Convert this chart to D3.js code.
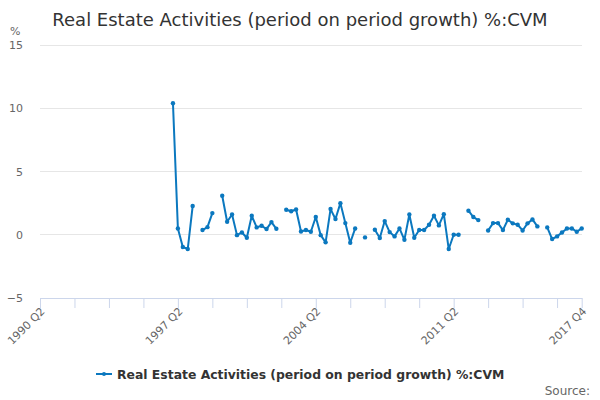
<!DOCTYPE html>
<html><head><meta charset="utf-8">
<script src="https://cdn.jsdelivr.net/npm/d3@7"></script>
<style>
body{margin:0;background:#fff;}
text{font-family:"DejaVu Sans",Verdana,sans-serif;}
</style></head>
<body><svg id="c" width="600" height="400"></svg>
<script>
const title = "Real Estate Activities (period on period growth) %:CVM";
const seriesName = "Real Estate Activities (period on period growth) %:CVM";
const startYear = 1990, startQuarter = 2, endYear = 2017, endQuarter = 4;
const yTicks = [-5, 0, 5, 10, 15];
const xLabelIdx = [0, 28, 56, 84, 110];
// values from 1990 Q2 to 2017 Q4 (null = missing)
const values = [
 null,null,null,null,null,null,null,null,null,null,
 null,null,null,null,null,null,null,null,null,null,
 null,null,null,null,null,null,null,
 10.4, 0.5, -0.97, -1.13, 2.27, null, 0.37, 0.6, 1.71, null,
 3.08, 1.03, 1.6, -0.03, 0.18, -0.24, 1.5, 0.58, 0.71, 0.45,
 1.0, 0.47, null, 1.98, 1.86, 2.0, 0.26, 0.37, 0.24, 1.4,
 -0.03, -0.6, 2.03, 1.24, 2.5, 0.92, -0.63, 0.5, null, -0.21,
 null, 0.4, -0.26, 1.08, 0.21, -0.13, 0.5, -0.4, 1.6, -0.24,
 0.37, 0.37, 0.79, 1.5, 0.74, 1.63, -1.13, 0.0, 0.0, null,
 1.9, 1.4, 1.16, null, 0.34, 0.92, 0.92, 0.37, 1.19, 0.9,
 0.79, 0.34, 0.9, 1.21, 0.66, null, 0.58, -0.34, -0.13, 0.18,
 0.5, 0.5, 0.24, 0.5
];
const categories = values.map((v,i)=>{
  const q = startQuarter - 1 + i;
  return (startYear + Math.floor(q/4)) + " Q" + (q%4 + 1);
});
const data = values.map((v,i)=>({i, v, label: categories[i]}));

const svg = d3.select("#c");
const L = 40, R = 581.7, T = 45, B = 298;
const x = d3.scaleLinear().domain([0, categories.length-1]).range([L, R]);
const y = d3.scaleLinear().domain([-5, 15]).range([B, T]);
const blue = "#0b78bf";

svg.append("text").attr("x", 300).attr("y", 26).attr("text-anchor","middle")
  .attr("font-size", 18).attr("fill", "#333").text(title);

// grid
svg.append("g").selectAll("line").data(yTicks.filter(t=>t>-5)).join("line")
  .attr("x1", L).attr("x2", R).attr("y1", d=>y(d)).attr("y2", d=>y(d))
  .attr("stroke", "#e6e6e6").attr("stroke-width", 1).attr("shape-rendering","crispEdges");

// y axis labels
const yAxis = d3.axisLeft(y).tickValues(yTicks).tickSize(0).tickPadding(0);
const gy = svg.append("g").attr("transform", "translate(23,0)").call(yAxis);
gy.select(".domain").remove();
gy.selectAll("text").attr("font-size", 11).attr("fill", "#666")
  .attr("font-family", "DejaVu Sans").attr("dy", "0.32em");

svg.append("text").attr("x", 10).attr("y", 35).attr("font-size", 11).attr("fill", "#666").text("%");

// x axis
const tickIdx = d3.range(0, categories.length, 7).concat([categories.length-1]);
const xAxis = d3.axisBottom(x).tickValues(tickIdx).tickSize(10).tickSizeOuter(0)
  .tickFormat(i => xLabelIdx.includes(i) ? categories[i] : "");
const gx = svg.append("g").attr("transform", `translate(0,${B})`).call(xAxis);
gx.select(".domain").attr("stroke", "#ccd6eb");
gx.selectAll(".tick line").attr("stroke", "#ccd6eb");
gx.selectAll(".tick text").attr("font-size", 11).attr("fill", "#666")
  .attr("font-family", "DejaVu Sans")
  .attr("text-anchor", "end").attr("dy", null).attr("y", 0)
  .attr("transform", "translate(5,14) rotate(-45)");

// line
const line = d3.line().defined(d=>d.v!==null).x(d=>x(d.i)).y(d=>y(d.v));
svg.append("path").datum(data).attr("d", line).attr("fill","none")
  .attr("stroke", blue).attr("stroke-width", 2).attr("stroke-linejoin","round");
svg.append("g").selectAll("circle").data(data.filter(d=>d.v!==null)).join("circle")
  .attr("cx", d=>x(d.i)).attr("cy", d=>y(d.v)).attr("r", 2.2).attr("fill", blue);

// legend
const lg = svg.append("g");
lg.append("line").attr("x1", 96).attr("x2", 112).attr("y1", 374).attr("y2", 374)
  .attr("stroke", blue).attr("stroke-width", 2);
lg.append("circle").attr("cx", 104).attr("cy", 374).attr("r", 2).attr("fill", blue);
lg.append("text").attr("x", 117).attr("y", 378.5).attr("font-size", 12.4).attr("font-weight","bold")
  .attr("fill", "#333").text(seriesName);

svg.append("text").attr("x", 590).attr("y", 395).attr("text-anchor","end")
  .attr("font-size", 12).attr("fill", "#666").text("Source:");
</script></body></html>
